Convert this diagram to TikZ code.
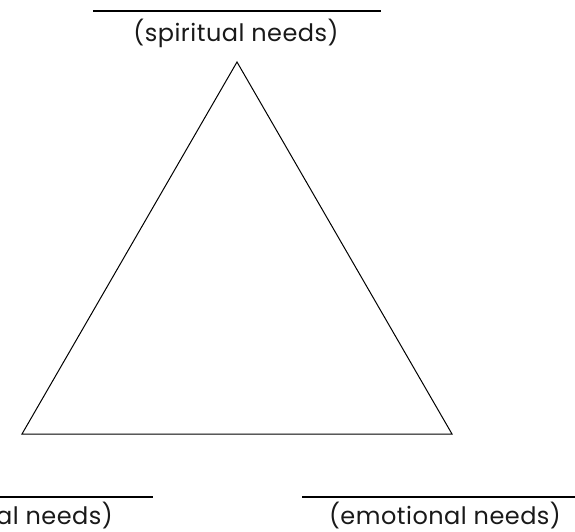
\documentclass[tikz,border=0pt]{standalone}
\usepackage{fontspec}
\setmainfont{Poppins}[LetterSpace=2]
\begin{document}
\begin{tikzpicture}[x=1pt,y=1pt,
  tri/.style={draw=black,line width=1pt,line join=miter},
  rule/.style={draw=black,line width=2pt},
  lab/.style={inner sep=0pt,font=\fontsize{24}{26}\selectfont,text=black!90}]
\useasboundingbox (0,0) rectangle (575,531);
\coordinate (apex) at (237,469);
\coordinate (bl) at (22,97);
\coordinate (br) at (452,97);
\draw[tri] (apex) -- (br) -- (bl) -- cycle;
\coordinate (t1) at (93,520);
\coordinate (t2) at (381,520);
\draw[rule] (t1) -- (t2);
\node[lab,anchor=base] (sp) at (236,489) {(spiritual needs)};
\coordinate (l1) at (0,34.5);
\coordinate (l2) at (153,34.5);
\draw[rule] (l1) -- (l2);
\node[lab,anchor=base east] (ph) at (113,6.5) {al needs)};
\coordinate (r1) at (302,34.5);
\coordinate (r2) at (575,34.5);
\draw[rule] (r1) -- (r2);
\node[lab,anchor=base] (em) at (445,6.5) {(emotional needs)};
\end{tikzpicture}
\end{document}
